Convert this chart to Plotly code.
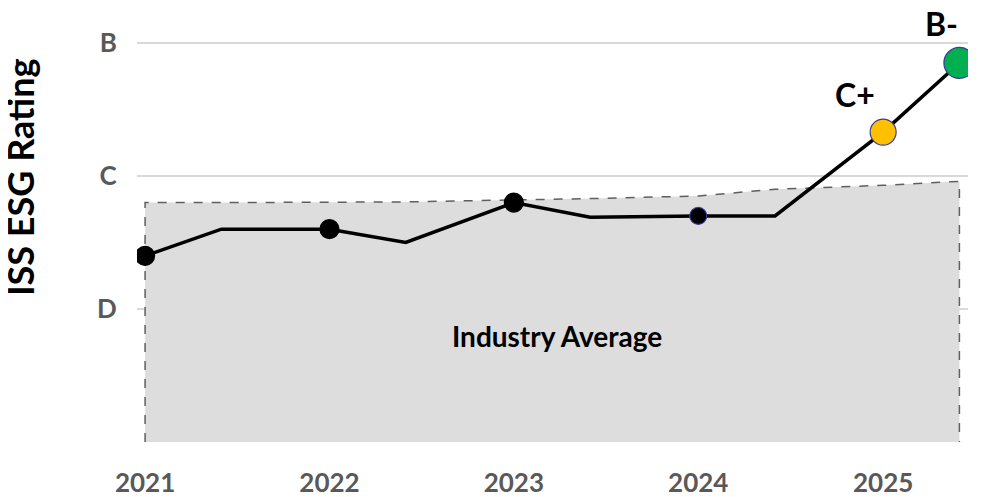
import plotly.graph_objects as go

# ---- data ----
dates = ["2021-01-01", "2021-06-01", "2022-01-01", "2022-06-01", "2023-01-01",
         "2023-06-01", "2024-01-01", "2024-06-01", "2025-01-01", "2025-06-01"]
company_rating = [1.40, 1.60, 1.60, 1.50, 1.80, 1.69, 1.70, 1.70, 2.33, 2.85]
industry_avg = [1.80, 1.80, 1.80, 1.805, 1.82, 1.83, 1.85, 1.90, 1.93, 1.96]

marker_dates = ["2021-01-01", "2022-01-01", "2023-01-01", "2024-01-01"]
marker_vals = [1.40, 1.60, 1.80, 1.70]
highlight_dates = ["2025-01-01", "2025-06-01"]
highlight_vals = [2.33, 2.85]
highlight_labels = ["C+", "B-"]

grade_vals = [0, 1, 2, 3]
grade_text = ["", "D", "C", "B"]
year_ticks = ["2021-01-01", "2022-01-01", "2023-01-01", "2024-01-01", "2025-01-01"]
year_text = ["2021", "2022", "2023", "2024", "2025"]

FONT = "Lato"
GRAY = "#595959"

fig = go.Figure()

# Industry average area (closed polygon with dashed outline)
fig.add_trace(go.Scatter(
    x=[dates[0]] + dates + [dates[-1]],
    y=[0] + industry_avg + [0],
    mode="lines",
    fill="toself",
    fillcolor="#dddddd",
    line=dict(color="#5f5f5f", width=1.5, dash="dash"),
    hoverinfo="skip",
    showlegend=False,
))

# Company rating line
fig.add_trace(go.Scatter(
    x=dates, y=company_rating, mode="lines",
    line=dict(color="black", width=3.5),
    showlegend=False,
))

# Black markers
fig.add_trace(go.Scatter(
    x=marker_dates, y=marker_vals, mode="markers",
    marker=dict(color="black", size=[19, 19, 19, 17], opacity=1,
                line=dict(color=["black", "black", "black", "#3a3a9a"], width=1.2)),
    showlegend=False,
))

# Highlighted markers
fig.add_trace(go.Scatter(
    x=highlight_dates, y=highlight_vals, mode="markers",
    marker=dict(color=["#FFC000", "#00B050"], size=[26, 31], opacity=1,
                line=dict(color="#3a3a9a", width=1.2)),
    showlegend=False,
))

annotations = []
for d, v, lab, dx, dy, fs in zip(highlight_dates, highlight_vals, highlight_labels,
                                 [-28, -18], [38, 39], [32, 32]):
    annotations.append(dict(x=d, y=v, text=f"<b>{lab}</b>", showarrow=False,
                            xshift=dx, yshift=dy,
                            font=dict(family=FONT, size=fs, color="black")))

annotations.append(dict(x="2023-03-27", y=0.80, text="<b>Industry Average</b>",
                        showarrow=False, font=dict(family=FONT, size=28, color="black")))

annotations.append(dict(xref="paper", yref="paper", x=-0.1400, y=0.621,
                        text="<b>ISS ESG Rating</b>", textangle=-90, showarrow=False,
                        xanchor="center", yanchor="middle",
                        font=dict(family=FONT, size=36, color="black")))

# the page body has an 8px margin, so the figure is offset by 8px
fig.update_layout(
    width=979, height=489,
    margin=dict(l=129, r=19, t=8, b=55, autoexpand=False),
    paper_bgcolor="white", plot_bgcolor="white",
    annotations=annotations,
    xaxis=dict(type="date", range=["2020-12-16", "2025-06-18"], automargin=False,
               tickvals=year_ticks, ticktext=[f"<b>{t}</b>" for t in year_text],
               tickfont=dict(family=FONT, size=26, color=GRAY),
               ticks="outside", ticklen=18, tickcolor="rgba(0,0,0,0)",
               showgrid=False, zeroline=False, showline=False),
    yaxis=dict(range=[0, 3.203], automargin=False, tickvals=grade_vals,
               ticktext=[f"<b>{t}</b>" if t else "" for t in grade_text],
               tickfont=dict(family=FONT, size=26, color=GRAY),
               ticks="outside", ticklen=14, tickcolor="rgba(0,0,0,0)",
               showgrid=True, gridcolor="#d9d9d9", gridwidth=1.5,
               zeroline=False, showline=False),
)

fig.write_html("out.html")
